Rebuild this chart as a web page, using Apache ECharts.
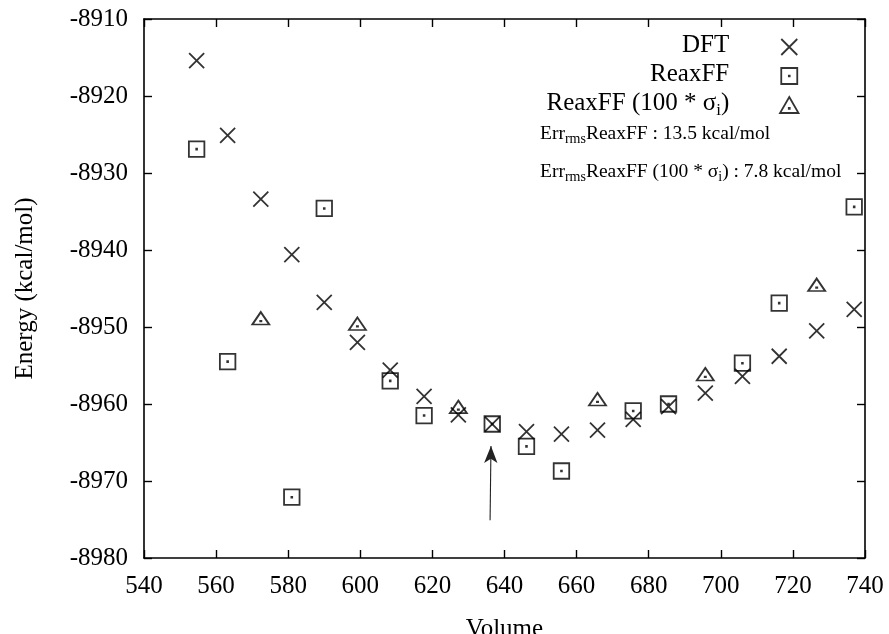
<!DOCTYPE html>
<html>
<head>
<meta charset="utf-8">
<script src="https://cdn.jsdelivr.net/npm/echarts@6/dist/echarts.min.js"></script>
<style>html,body{margin:0;padding:0;background:#fff}#c{width:889px;height:634px}</style>
</head>
<body>
<div id="c"></div>
<script>
// Data
const volumes = [554.6, 563.2, 572.4, 581.0, 590.0, 599.2, 608.3, 617.7, 627.2, 636.6, 646.1, 655.8, 665.8, 675.7, 685.5, 695.7, 706.0, 716.2, 726.6, 737.0];
const dftEnergy = [-8915.4, -8925.1, -8933.4, -8940.6, -8946.8, -8952.0, -8955.6, -8959.0, -8961.4, -8962.6, -8963.6, -8963.9, -8963.4, -8962.0, -8960.35, -8958.6, -8956.4, -8953.8, -8950.5, -8947.7];
const reaxffEnergy = [-8926.9, -8954.5, null, -8972.1, -8934.6, null, -8957.0, -8961.5, null, -8962.6, -8965.5, -8968.7, null, -8960.9, -8960.0, null, -8954.7, -8946.9, null, -8934.4];
const reaxffSigmaEnergy = [null, null, -8949.2, null, null, -8949.9, null, null, -8960.7, null, null, null, -8959.7, null, null, -8956.45, null, null, -8944.85, null];
const xTicks = {min: 540, max: 740, interval: 20};
const yTicks = {min: -8980, max: -8910, interval: 10};
const arrowFrom = [636.0, -8975.1];
const arrowTo = [636.25, -8965.45];
const seriesNames = ['DFT', 'ReaxFF', 'ReaxFF (100 * σi)'];
const errTexts = [['Err', 'rms', 'ReaxFF : 13.5 kcal/mol'], ['Err', 'rms', 'ReaxFF (100 * σ', 'i', ') : 7.8 kcal/mol']];

const FONT = 'Liberation Serif, Times New Roman, serif';
const pairs = arr => volumes.map((v, i) => [v, arr[i]]).filter(p => p[1] !== null);

const X_PATH = 'path://M0,0L10,10M10,0L0,10';
const SQ_PATH = 'path://M0,0L10,0L10,10L0,10Z M4.75,4.75L5.25,4.75L5.25,5.25L4.75,5.25Z';
const TRI_PATH = 'path://M5,0L10,8.66L0,8.66Z M4.75,5.95L5.25,5.95L5.25,6.45L4.75,6.45Z';

const hollow = {color: 'none', borderColor: '#000', borderWidth: 1.8};

const axisCommon = {
  type: 'value',
  axisLine: {show: true, onZero: false, lineStyle: {color: '#000', width: 1.6}},
  axisTick: {show: true, inside: true, length: 8, lineStyle: {color: '#000', width: 1.4}},
  splitLine: {show: false}
};
const plainNum = v => String(v);

const chart = echarts.init(document.getElementById('c'), null, {renderer: 'canvas'});
chart.setOption({
  animation: false,
  backgroundColor: '#fff',
  textStyle: {fontFamily: FONT, color: '#000'},
  grid: {left: 144, right: 24, top: 19, bottom: 76, containLabel: false, outerBoundsMode: 'none'},
  xAxis: [
    Object.assign({}, axisCommon, xTicks, {
      position: 'bottom',
      axisLabel: {margin: 16, fontSize: 25, fontFamily: FONT, color: '#000', formatter: plainNum},
      name: 'Volume', nameLocation: 'middle', nameGap: 59,
      nameTextStyle: {fontSize: 25, fontFamily: FONT, color: '#000'}
    }),
    Object.assign({}, axisCommon, xTicks, {position: 'top', axisLabel: {show: false}})
  ],
  yAxis: [
    Object.assign({}, axisCommon, yTicks, {
      position: 'left',
      axisLabel: {margin: 16, fontSize: 25, fontFamily: FONT, color: '#000', formatter: plainNum},
      name: 'Energy (kcal/mol)', nameLocation: 'middle', nameGap: 106,
      nameTextStyle: {fontSize: 25, fontFamily: FONT, color: '#000'}
    }),
    Object.assign({}, axisCommon, yTicks, {position: 'right', axisLabel: {show: false}})
  ],
  legend: {
    orient: 'vertical',
    align: 'right',
    right: 83,
    top: 28,
    itemWidth: 110,
    itemHeight: 16,
    itemGap: 4,
    symbolKeepAspect: true,
    itemStyle: {color: 'none', borderColor: '#000', borderWidth: 1.8},
    data: seriesNames,
    formatter: function (name) {
      if (name === seriesNames[2]) return '{n|ReaxFF (100 * σ}{s|i}{n|)}';
      return '{n|' + name + '}';
    },
    textStyle: {
      fontFamily: FONT, color: '#000', fontSize: 25,
      rich: {
        n: {fontFamily: FONT, fontSize: 25, color: '#000', lineHeight: 28, verticalAlign: 'top'},
        s: {fontFamily: FONT, fontSize: 17, color: '#000', lineHeight: 10, verticalAlign: 'bottom'}
      }
    }
  },
  graphic: errTexts.map((parts, k) => ({
    type: 'text',
    left: 540,
    top: k === 0 ? 124 : 162,
    style: {
      text: parts.map((p, j) => (j % 2 === 0 ? '{a|' : '{b|') + p + '}').join(''),
      rich: {
        a: {fontFamily: FONT, fontSize: 19.5, fill: '#000', lineHeight: 22, verticalAlign: 'top'},
        b: {fontFamily: FONT, fontSize: 14, fill: '#000', lineHeight: 8, verticalAlign: 'bottom'}
      }
    }
  })),
  series: [
    {
      name: seriesNames[0], type: 'scatter', symbol: X_PATH, symbolSize: 15,
      itemStyle: hollow, data: pairs(dftEnergy), z: 3,
      markLine: {
        silent: true, animation: false,
        symbol: ['none', 'arrow'], symbolSize: [10, 17],
        lineStyle: {color: '#222', width: 1.1, type: 'solid'},
        label: {show: false},
        data: [[{coord: arrowFrom}, {coord: arrowTo}]]
      }
    },
    {
      name: seriesNames[1], type: 'scatter', symbol: SQ_PATH, symbolSize: 15.5,
      itemStyle: hollow, data: pairs(reaxffEnergy), z: 2
    },
    {
      name: seriesNames[2], type: 'scatter', symbol: TRI_PATH, symbolSize: [17, 12.5],
      symbolOffset: [0, -2.5],
      itemStyle: hollow, data: pairs(reaxffSigmaEnergy), z: 2
    }
  ]
});
</script>
</body>
</html>
